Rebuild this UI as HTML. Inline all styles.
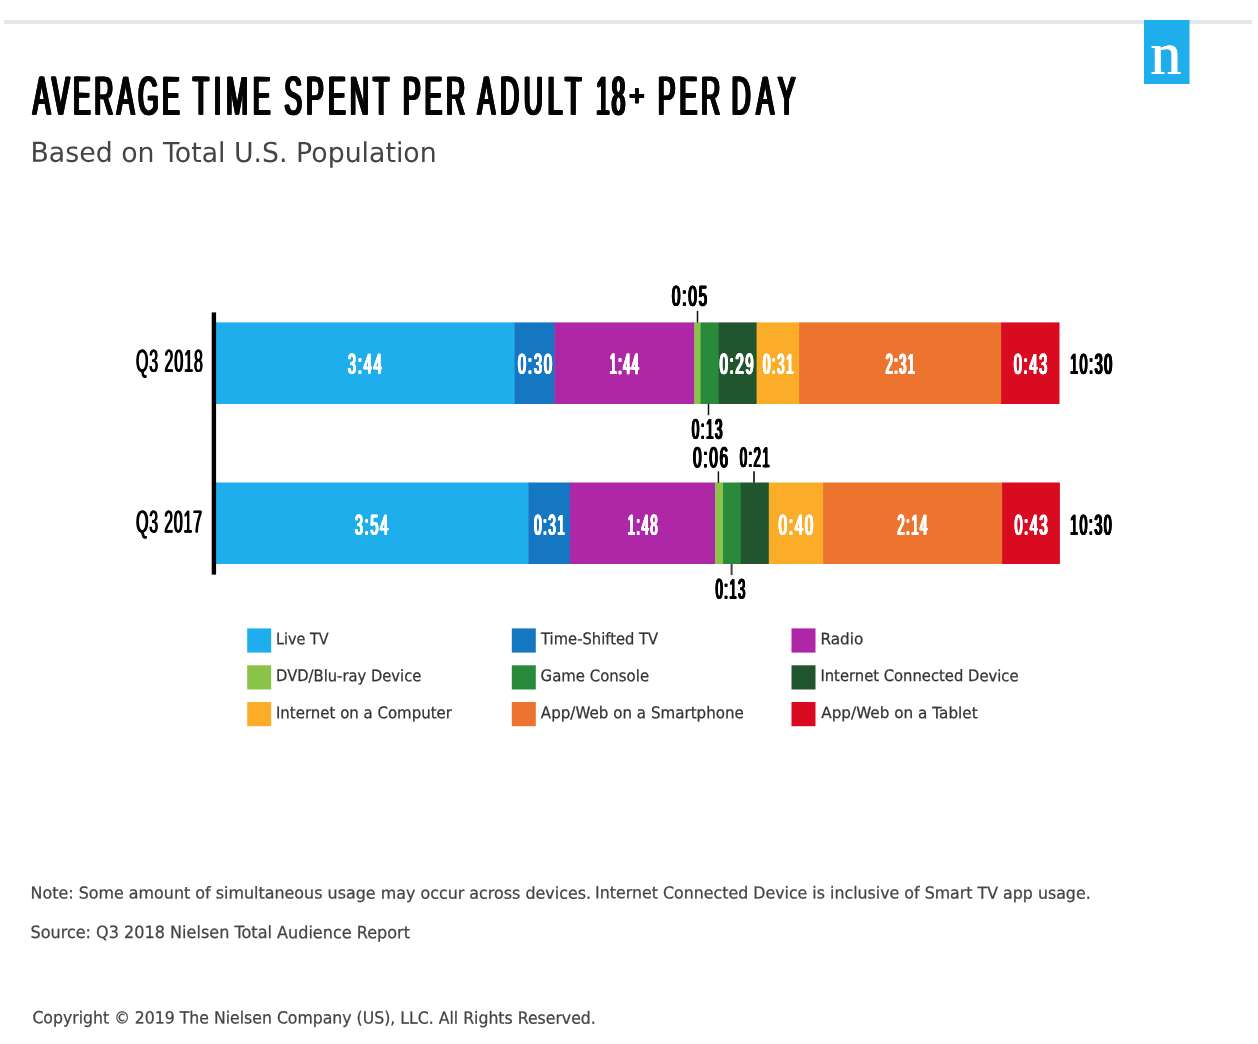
<!DOCTYPE html>
<html lang="en">
<head>
<meta charset="utf-8">
<title>Average Time Spent per Adult 18+ per Day</title>
<style>
html,body{margin:0;padding:0;background:#fff}
#pg{position:relative;width:1258px;height:1044px;overflow:hidden;background:#fff;font-family:"Liberation Sans",sans-serif}
#pg svg{position:absolute;left:0;top:0;display:block}
.t{position:absolute;left:0;top:0;margin:0;padding:0;transform-origin:0 0;font-size:100px;line-height:100px;font-weight:normal;white-space:pre;font-family:"Liberation Sans",sans-serif;font-kerning:normal}
.sf{font-family:"Liberation Serif",serif}
.dv{font-family:"DejaVu Sans",sans-serif}
.b{font-weight:bold}
h1,h2,p,ul,li,div.g{margin:0;padding:0;list-style:none;font-size:0;line-height:0;font-weight:normal}
</style>
</head>
<body>
<div id="pg">
<svg width="1258" height="1044" viewBox="0 0 1258 1044" aria-hidden="true">
<rect x="4" y="20" width="1248" height="4" fill="#e4e8eb"/>
<rect x="1144" y="20" width="45.5" height="64" fill="#1eaeec"/>
<rect x="216.00" y="322.4" width="298.90" height="81.60" fill="#1eaeec"/>
<rect x="514.50" y="322.4" width="40.40" height="81.60" fill="#1577c2"/>
<rect x="554.50" y="322.4" width="140.20" height="81.60" fill="#ae27a6"/>
<rect x="694.30" y="322.4" width="6.60" height="81.60" fill="#8bc34a"/>
<rect x="700.50" y="322.4" width="18.40" height="81.60" fill="#2a8a3c"/>
<rect x="718.50" y="322.4" width="38.50" height="81.60" fill="#21552d"/>
<rect x="756.60" y="322.4" width="42.90" height="81.60" fill="#fbad2a"/>
<rect x="799.10" y="322.4" width="202.40" height="81.60" fill="#ec742f"/>
<rect x="1001.10" y="322.4" width="58.40" height="81.60" fill="#d80b20"/>
<rect x="216.00" y="482.5" width="312.70" height="81.50" fill="#1eaeec"/>
<rect x="528.30" y="482.5" width="42.00" height="81.50" fill="#1577c2"/>
<rect x="569.90" y="482.5" width="145.60" height="81.50" fill="#ae27a6"/>
<rect x="715.10" y="482.5" width="8.30" height="81.50" fill="#8bc34a"/>
<rect x="723.00" y="482.5" width="18.10" height="81.50" fill="#2a8a3c"/>
<rect x="740.70" y="482.5" width="28.50" height="81.50" fill="#21552d"/>
<rect x="768.80" y="482.5" width="54.70" height="81.50" fill="#fbad2a"/>
<rect x="823.10" y="482.5" width="179.40" height="81.50" fill="#ec742f"/>
<rect x="1002.10" y="482.5" width="57.80" height="81.50" fill="#d80b20"/>
<rect x="211.7" y="312.4" width="4.4" height="262.2" fill="#000"/>
<rect x="696.75" y="310.8" width="1.5" height="11.80" fill="#111"/>
<rect x="707.75" y="403.8" width="1.5" height="11.40" fill="#111"/>
<rect x="717.65" y="471.3" width="1.5" height="11.50" fill="#111"/>
<rect x="753.05" y="471.3" width="1.9" height="11.50" fill="#333"/>
<rect x="730.60" y="563.8" width="2.0" height="11.30" fill="#444"/>
<rect x="247.2" y="628.4" width="24" height="24.2" fill="#1eaeec"/>
<rect x="511.8" y="628.4" width="24" height="24.2" fill="#1577c2"/>
<rect x="791.5" y="628.4" width="24" height="24.2" fill="#ae27a6"/>
<rect x="247.2" y="665.3" width="24" height="24.2" fill="#8bc34a"/>
<rect x="511.8" y="665.3" width="24" height="24.2" fill="#2a8a3c"/>
<rect x="791.5" y="665.3" width="24" height="24.2" fill="#21552d"/>
<rect x="247.2" y="702.0" width="24" height="24.2" fill="#fbad2a"/>
<rect x="511.8" y="702.0" width="24" height="24.2" fill="#ec742f"/>
<rect x="791.5" y="702.0" width="24" height="24.2" fill="#d80b20"/>
</svg>
<h1>
<span class="t" style="font-size:56px;line-height:56px;transform:matrix(0.46912,0.0007,0,0.97734,32.80,68.57);color:#050505;letter-spacing:7.73px;text-shadow:2.451px 0.205px 0 #050505,-2.451px 0.205px 0 #050505,2.451px -0.205px 0 #050505,-2.451px -0.205px 0 #050505,0px 0.205px 0 #050505,0px -0.205px 0 #050505;">AVERAGE</span>
<span class="t" style="font-size:56px;line-height:56px;transform:matrix(0.46909,0.0007,0,0.97727,192.95,68.62);color:#050505;letter-spacing:10.386px;text-shadow:2.452px 0.205px 0 #050505,-2.452px 0.205px 0 #050505,2.452px -0.205px 0 #050505,-2.452px -0.205px 0 #050505,0px 0.205px 0 #050505,0px -0.205px 0 #050505;">TIME</span>
<span class="t" style="font-size:56px;line-height:56px;transform:matrix(0.46982,0.0007,0,0.97879,284.40,68.54);color:#050505;letter-spacing:9.098px;text-shadow:2.448px 0.204px 0 #050505,-2.448px 0.204px 0 #050505,2.448px -0.204px 0 #050505,-2.448px -0.204px 0 #050505,0px 0.204px 0 #050505,0px -0.204px 0 #050505;">SPENT</span>
<span class="t" style="font-size:56px;line-height:56px;transform:matrix(0.47017,0.0007,0,0.97953,403.00,68.56);color:#050505;letter-spacing:8.463px;text-shadow:2.446px 0.204px 0 #050505,-2.446px 0.204px 0 #050505,2.446px -0.204px 0 #050505,-2.446px -0.204px 0 #050505,0px 0.204px 0 #050505,0px -0.204px 0 #050505;">PER</span>
<span class="t" style="font-size:56px;line-height:56px;transform:matrix(0.46907,0.0007,0,0.97723,477.64,68.60);color:#050505;letter-spacing:10.397px;text-shadow:2.452px 0.205px 0 #050505,-2.452px 0.205px 0 #050505,2.452px -0.205px 0 #050505,-2.452px -0.205px 0 #050505,0px 0.205px 0 #050505,0px -0.205px 0 #050505;">ADULT</span>
<span class="t" style="font-size:56px;line-height:56px;transform:matrix(0.43008,0.0007,0,0.97913,596.18,68.62);color:#050505;letter-spacing:5.04px;text-shadow:2.674px 0.204px 0 #050505,-2.674px 0.204px 0 #050505,2.674px -0.204px 0 #050505,-2.674px -0.204px 0 #050505,0px 0.204px 0 #050505,0px -0.204px 0 #050505;">18</span><span class="t b" style="font-size:31px;line-height:31px;transform:matrix(0.89631,0.0007,0,0.90104,628.70,81.67);color:#050505;text-shadow:0.335px 0.333px 0 #050505,-0.335px 0.333px 0 #050505,0.335px -0.333px 0 #050505,-0.335px -0.333px 0 #050505,0px 0.333px 0 #050505,0px -0.333px 0 #050505;">+</span>
<span class="t" style="font-size:56px;line-height:56px;transform:matrix(0.47133,0.0007,0,0.98194,657.87,68.44);color:#050505;letter-spacing:8.547px;text-shadow:2.44px 0.204px 0 #050505,-2.44px 0.204px 0 #050505,2.44px -0.204px 0 #050505,-2.44px -0.204px 0 #050505,0px 0.204px 0 #050505,0px -0.204px 0 #050505;">PER</span>
<span class="t" style="font-size:56px;line-height:56px;transform:matrix(0.46931,0.0007,0,0.97774,731.59,68.62);color:#050505;letter-spacing:12.423px;text-shadow:2.45px 0.205px 0 #050505,-2.45px 0.205px 0 #050505,2.45px -0.205px 0 #050505,-2.45px -0.205px 0 #050505,0px 0.205px 0 #050505,0px -0.205px 0 #050505;">DAY</span>
</h1>
<h2>
<span class="t dv" style="font-size:27px;line-height:27px;transform:matrix(0.99120,0.0007,0,1.01483,30.47,138.47);color:#444;">Based on Total U.S. Population</span>
</h2>
<div class="g">
<span class="t sf" style="font-size:61px;line-height:61px;transform:matrix(1.00947,0.0007,0,0.98385,1150.50,23.47);color:#fff;text-shadow:0.396px 0px 0 #fff,-0.396px 0px 0 #fff;">n</span>
</div>
<div class="g">
<span class="t" style="font-size:32px;line-height:32px;transform:matrix(0.49634,0.0007,0,0.99268,135.93,344.90);color:#000;letter-spacing:2.003px;text-shadow:1.108px 0px 0 #000,-1.108px 0px 0 #000;">Q3 2018</span>
<span class="t" style="font-size:29px;line-height:29px;transform:matrix(0.50705,0.0007,0,0.97898,347.85,350.03);color:#fff;letter-spacing:3.48px;text-shadow:1.282px 0.204px 0 #fff,-1.282px 0.204px 0 #fff,1.282px -0.204px 0 #fff,-1.282px -0.204px 0 #fff,0px 0.204px 0 #fff,0px -0.204px 0 #fff;">3:44</span>
<span class="t" style="font-size:29px;line-height:29px;transform:matrix(0.50946,0.0007,0,0.97848,517.93,350.04);color:#fff;letter-spacing:3.48px;text-shadow:1.276px 0.204px 0 #fff,-1.276px 0.204px 0 #fff,1.276px -0.204px 0 #fff,-1.276px -0.204px 0 #fff,0px 0.204px 0 #fff,0px -0.204px 0 #fff;">0:30</span>
<span class="t" style="font-size:29px;line-height:29px;transform:matrix(0.43411,0.0007,0,1.01926,609.72,349.46);color:#fff;letter-spacing:3.48px;text-shadow:1.497px 0.196px 0 #fff,-1.497px 0.196px 0 #fff,1.497px -0.196px 0 #fff,-1.497px -0.196px 0 #fff,0px 0.196px 0 #fff,0px -0.196px 0 #fff;">1:44</span>
<span class="t" style="font-size:29px;line-height:29px;transform:matrix(0.52643,0.0007,0,0.98692,671.93,281.97);color:#000;letter-spacing:3.48px;text-shadow:1.235px 0.203px 0 #000,-1.235px 0.203px 0 #000,1.235px -0.203px 0 #000,-1.235px -0.203px 0 #000,0px 0.203px 0 #000,0px -0.203px 0 #000;">0:05</span>
<span class="t" style="font-size:29px;line-height:29px;transform:matrix(0.45462,0.0007,0,0.97944,691.94,415.16);color:#000;letter-spacing:3.48px;text-shadow:1.43px 0.204px 0 #000,-1.43px 0.204px 0 #000,1.43px -0.204px 0 #000,-1.43px -0.204px 0 #000,0px 0.204px 0 #000,0px -0.204px 0 #000;">0:13</span>
<span class="t" style="font-size:29px;line-height:29px;transform:matrix(0.50484,0.0007,0,0.99638,719.77,349.78);color:#fff;letter-spacing:3.48px;text-shadow:1.288px 0.201px 0 #fff,-1.288px 0.201px 0 #fff,1.288px -0.201px 0 #fff,-1.288px -0.201px 0 #fff,0px 0.201px 0 #fff,0px -0.201px 0 #fff;">0:29</span>
<span class="t" style="font-size:29px;line-height:29px;transform:matrix(0.45441,0.0007,0,0.98275,762.99,350.06);color:#fff;letter-spacing:3.48px;text-shadow:1.43px 0.204px 0 #fff,-1.43px 0.204px 0 #fff,1.43px -0.204px 0 #fff,-1.43px -0.204px 0 #fff,0px 0.204px 0 #fff,0px -0.204px 0 #fff;">0:31</span>
<span class="t" style="font-size:29px;line-height:29px;transform:matrix(0.43344,0.0007,0,0.97904,885.76,350.07);color:#fff;letter-spacing:3.48px;text-shadow:1.5px 0.204px 0 #fff,-1.5px 0.204px 0 #fff,1.5px -0.204px 0 #fff,-1.5px -0.204px 0 #fff,0px 0.204px 0 #fff,0px -0.204px 0 #fff;">2:31</span>
<span class="t" style="font-size:29px;line-height:29px;transform:matrix(0.50044,0.0007,0,0.98443,1013.79,350.10);color:#fff;letter-spacing:3.48px;text-shadow:1.299px 0.203px 0 #fff,-1.299px 0.203px 0 #fff,1.299px -0.203px 0 #fff,-1.299px -0.203px 0 #fff,0px 0.203px 0 #fff,0px -0.203px 0 #fff;">0:43</span>
<span class="t" style="font-size:29px;line-height:29px;transform:matrix(0.48396,0.0007,0,0.99027,1070.18,349.91);color:#000;letter-spacing:3.48px;text-shadow:1.343px 0.202px 0 #000,-1.343px 0.202px 0 #000,1.343px -0.202px 0 #000,-1.343px -0.202px 0 #000,0px 0.202px 0 #000,0px -0.202px 0 #000;">10:30</span>
</div>
<div class="g">
<span class="t" style="font-size:32px;line-height:32px;transform:matrix(0.49433,0.0007,0,0.98866,136.12,505.70);color:#000;letter-spacing:1.735px;text-shadow:1.113px 0px 0 #000,-1.113px 0px 0 #000;">Q3 2017</span>
<span class="t" style="font-size:29px;line-height:29px;transform:matrix(0.49995,0.0007,0,0.98523,354.83,510.98);color:#fff;letter-spacing:3.48px;text-shadow:1.3px 0.203px 0 #fff,-1.3px 0.203px 0 #fff,1.3px -0.203px 0 #fff,-1.3px -0.203px 0 #fff,0px 0.203px 0 #fff,0px -0.203px 0 #fff;">3:54</span>
<span class="t" style="font-size:29px;line-height:29px;transform:matrix(0.45490,0.0007,0,0.98407,534.23,510.98);color:#fff;letter-spacing:3.48px;text-shadow:1.429px 0.203px 0 #fff,-1.429px 0.203px 0 #fff,1.429px -0.203px 0 #fff,-1.429px -0.203px 0 #fff,0px 0.203px 0 #fff,0px -0.203px 0 #fff;">0:31</span>
<span class="t" style="font-size:29px;line-height:29px;transform:matrix(0.44568,0.0007,0,0.98972,627.66,510.86);color:#fff;letter-spacing:3.48px;text-shadow:1.458px 0.202px 0 #fff,-1.458px 0.202px 0 #fff,1.458px -0.202px 0 #fff,-1.458px -0.202px 0 #fff,0px 0.202px 0 #fff,0px -0.202px 0 #fff;">1:48</span>
<span class="t" style="font-size:29px;line-height:29px;transform:matrix(0.52191,0.0007,0,1.00022,693.06,443.20);color:#000;letter-spacing:3.48px;text-shadow:1.245px 0.2px 0 #000,-1.245px 0.2px 0 #000,1.245px -0.2px 0 #000,-1.245px -0.2px 0 #000,0px 0.2px 0 #000,0px -0.2px 0 #000;">0:06</span>
<span class="t" style="font-size:29px;line-height:29px;transform:matrix(0.44380,0.0007,0,0.97056,715.55,575.28);color:#000;letter-spacing:3.48px;text-shadow:1.465px 0.206px 0 #000,-1.465px 0.206px 0 #000,1.465px -0.206px 0 #000,-1.465px -0.206px 0 #000,0px 0.206px 0 #000,0px -0.206px 0 #000;">0:13</span>
<span class="t" style="font-size:29px;line-height:29px;transform:matrix(0.44320,0.0007,0,0.97722,739.79,443.44);color:#000;letter-spacing:3.48px;text-shadow:1.467px 0.205px 0 #000,-1.467px 0.205px 0 #000,1.467px -0.205px 0 #000,-1.467px -0.205px 0 #000,0px 0.205px 0 #000,0px -0.205px 0 #000;">0:21</span>
<span class="t" style="font-size:29px;line-height:29px;transform:matrix(0.51617,0.0007,0,0.98736,778.72,510.94);color:#fff;letter-spacing:3.48px;text-shadow:1.259px 0.203px 0 #fff,-1.259px 0.203px 0 #fff,1.259px -0.203px 0 #fff,-1.259px -0.203px 0 #fff,0px 0.203px 0 #fff,0px -0.203px 0 #fff;">0:40</span>
<span class="t" style="font-size:29px;line-height:29px;transform:matrix(0.44507,0.0007,0,0.98576,897.43,510.95);color:#fff;letter-spacing:3.48px;text-shadow:1.46px 0.203px 0 #fff,-1.46px 0.203px 0 #fff,1.46px -0.203px 0 #fff,-1.46px -0.203px 0 #fff,0px 0.203px 0 #fff,0px -0.203px 0 #fff;">2:14</span>
<span class="t" style="font-size:29px;line-height:29px;transform:matrix(0.49078,0.0007,0,0.97491,1014.59,511.15);color:#fff;letter-spacing:3.48px;text-shadow:1.324px 0.205px 0 #fff,-1.324px 0.205px 0 #fff,1.324px -0.205px 0 #fff,-1.324px -0.205px 0 #fff,0px 0.205px 0 #fff,0px -0.205px 0 #fff;">0:43</span>
<span class="t" style="font-size:29px;line-height:29px;transform:matrix(0.47960,0.0007,0,0.97311,1070.15,511.08);color:#000;letter-spacing:3.48px;text-shadow:1.355px 0.206px 0 #000,-1.355px 0.206px 0 #000,1.355px -0.206px 0 #000,-1.355px -0.206px 0 #000,0px 0.206px 0 #000,0px -0.206px 0 #000;">10:30</span>
</div>
<ul>
<li class="t dv" style="font-size:16px;line-height:16px;transform:matrix(0.89996,0.0007,0,0.98595,276.05,631.42);color:#333;-webkit-text-stroke:0.254px #333;">Live TV</li>
<li class="t dv" style="font-size:16px;line-height:16px;transform:matrix(0.92170,0.0007,0,1.00492,541.06,631.08);color:#333;-webkit-text-stroke:0.249px #333;">Time-Shifted TV</li>
<li class="t dv" style="font-size:16px;line-height:16px;transform:matrix(0.95268,0.0007,0,0.98638,820.41,631.39);color:#333;-webkit-text-stroke:0.253px #333;">Radio</li>
<li class="t dv" style="font-size:16px;line-height:16px;transform:matrix(0.92163,0.0007,0,1.00024,276.04,668.10);color:#333;-webkit-text-stroke:0.25px #333;">DVD/Blu-ray Device</li>
<li class="t dv" style="font-size:16px;line-height:16px;transform:matrix(0.93373,0.0007,0,0.99842,540.56,668.14);color:#333;-webkit-text-stroke:0.25px #333;">Game Console</li>
<li class="t dv" style="font-size:16px;line-height:16px;transform:matrix(0.92357,0.0007,0,0.98419,820.39,668.21);color:#333;-webkit-text-stroke:0.254px #333;">Internet Connected Device</li>
<li class="t dv" style="font-size:16px;line-height:16px;transform:matrix(0.93632,0.0007,0,1.00583,275.88,705.13);color:#333;-webkit-text-stroke:0.249px #333;">Internet on a Computer</li>
<li class="t dv" style="font-size:16px;line-height:16px;transform:matrix(0.94444,0.0007,0,1.01022,540.83,705.07);color:#333;-webkit-text-stroke:0.247px #333;">App/Web on a Smartphone</li>
<li class="t dv" style="font-size:16px;line-height:16px;transform:matrix(0.95316,0.0007,0,0.97698,821.20,705.36);color:#333;-webkit-text-stroke:0.256px #333;">App/Web on a Tablet</li>
</ul>
<p>
<span class="t dv" style="font-size:17px;line-height:17px;transform:matrix(0.93650,0.0007,0,0.96241,30.52,884.91);color:#444;-webkit-text-stroke:0.26px #444;">Note: Some amount of simultaneous usage may occur across devices.</span>
<span class="t dv" style="font-size:17px;line-height:17px;transform:matrix(0.93088,0.0007,0,0.97211,595.11,884.73);color:#444;-webkit-text-stroke:0.257px #444;">Internet Connected Device is inclusive of Smart TV app usage.</span>
</p>
<p>
<span class="t dv" style="font-size:17px;line-height:17px;transform:matrix(0.94479,0.0007,0,0.99517,30.44,924.01);color:#444;-webkit-text-stroke:0.251px #444;">Source: Q3 2018 Nielsen Total Audience Report</span>
</p>
<p>
<span class="t dv" style="font-size:17px;line-height:17px;transform:matrix(0.92365,0.0007,0,0.98838,32.41,1009.51);color:#444;-webkit-text-stroke:0.253px #444;">Copyright © 2019 The Nielsen Company (US), LLC. All Rights Reserved.</span>
</p>
</div>
</body>
</html>
